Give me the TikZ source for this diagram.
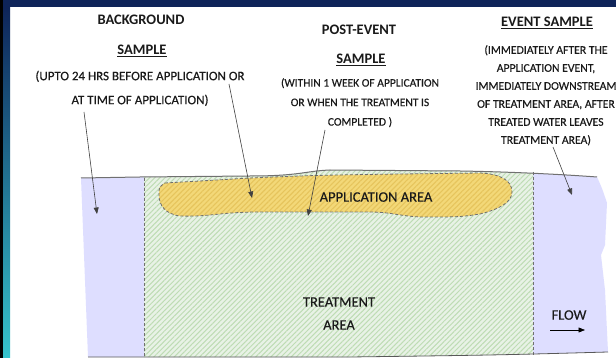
\documentclass[tikz,border=0pt]{standalone}
\usepackage{fontspec}
\setmainfont{Carlito}
\newfontfamily\medfont{Carlito}[FakeBold=0.35]
\usetikzlibrary{arrows.meta, patterns.meta, positioning}

\definecolor{navy}{HTML}{0E2459}
\definecolor{water}{HTML}{DEDEFF}
\definecolor{reed}{HTML}{E8F2E6}
\definecolor{reedline}{HTML}{BEDCB4}
\definecolor{appl}{HTML}{F3D878}
\definecolor{applline}{HTML}{E6C45C}
\definecolor{edge}{HTML}{707070}
\definecolor{ink}{HTML}{1A1A1A}

\begin{document}
\begin{tikzpicture}[x=1pt, y=-1pt,
  head/.style={font=\bfseries\fontsize{14.5}{16}\selectfont, text=ink, inner sep=0, anchor=base},
  body/.style={text=ink, align=center, inner sep=0, anchor=north},
  tag/.style={font=\medfont\fontsize{14.5}{16}\selectfont, text=ink, inner sep=0, anchor=base},
  lead/.style={draw=black!75, line width=0.6pt, -{Triangle[width=5pt,length=6.5pt]}},
  dashes/.style={draw=edge, line width=0.8pt, dash pattern=on 3pt off 2pt},
]

\useasboundingbox (0,0) rectangle (616,358);
\fill[white] (0,0) rectangle (616,358);

% frame
\fill[navy] (0,0) rectangle (616,7);
\fill[black] (0,0) rectangle (3,358);
\shade[top color=navy, middle color={rgb,255:red,0;green,51;blue,160}, bottom color={rgb,255:red,54;green,195;blue,204}] (3,7) rectangle (10,358);

% water
\def\waterpath{(81,178) -- (140,177) -- (250,176) .. controls (300,176) and (305,171) .. (330,170) -- (460,171) .. controls (520,172) and (570,175) .. (597,177) .. controls (602,188) .. (607,203) -- (605,245) -- (601,255) -- (605,290) -- (608,352) .. controls (500,355) .. (350,357) -- (88,357) -- cycle}
\fill[water] \waterpath;

% treatment area
\begin{scope}
  \clip \waterpath;
  \fill[reed] (144,160) rectangle (533,360);
  \fill[pattern={Lines[angle=45, distance=3.6pt, line width=1pt]}, pattern color=reedline] (144,160) rectangle (533,360);
\end{scope}
\coordinate (trA) at (144,178);
\coordinate (trB) at (144,357);
\coordinate (trC) at (533,172);
\coordinate (trD) at (533,356);
\draw[dashes] (trA) -- (trB);
\draw[dashes] (trC) -- (trD);

% application area
\def\applpath{(165,183) .. controls (200,181) .. (250,178) .. controls (320,175) .. (480,173) .. controls (500,174) and (512,180) .. (512,192) .. controls (512,202) and (500,209) .. (480,214) .. controls (460,217) .. (420,217) .. controls (400,216) and (390,212) .. (370,212) -- (260,212) .. controls (220,212) and (210,217) .. (180,216) .. controls (165,214) and (159,205) .. (159,195) .. controls (159,187) .. cycle}
\fill[appl] \applpath;
\fill[pattern={Lines[angle=45, distance=3.6pt, line width=1.1pt]}, pattern color=applline] \applpath;
\draw[dashes] \applpath;

% water edges
\draw[edge, line width=1pt] (81,178) -- (140,177) -- (250,176) .. controls (300,176) and (305,171) .. (330,170) -- (460,171) .. controls (520,172) and (570,175) .. (597,177);
\draw[black!65, line width=0.8pt] (88,357) -- (350,357) .. controls (500,355) .. (608,352);

% texts
\node[head] (bgTitle) at (141,25) {BACKGROUND};
\node[head] (bgSample) at (142,55) {\underline{SAMPLE}};
\node[body, font=\medfont\fontsize{13}{24}\selectfont] (bgText) at (140,70.5) {(UPTO 24 HRS BEFORE APPLICATION OR\\AT TIME OF APPLICATION)};

\node[head] (peTitle) at (359,35) {POST-EVENT};
\node[head] (peSample) at (361,64) {\underline{SAMPLE}};
\node[body, font=\medfont\fontsize{11.5}{19.5}\selectfont] (peText) at (360,78) {(WITHIN 1 WEEK OF APPLICATION\\OR WHEN THE TREATMENT IS\\COMPLETED )};

\node[head] (evTitle) at (547,27) {\underline{EVENT SAMPLE}};
\node[body, font=\medfont\fontsize{11.7}{18}\selectfont] (evText) at (546,45) {(IMMEDIATELY AFTER THE\\APPLICATION EVENT,\\IMMEDIATELY DOWNSTREAM\\OF TREATMENT AREA, AFTER\\TREATED WATER LEAVES\\TREATMENT AREA)};

\node[tag] (applArea) at (376,201.7) {APPLICATION AREA};
\node[tag] (trArea) at (339,306.7) {TREATMENT};
\node[tag, below=23pt of trArea.base, anchor=base] (trArea2) {AREA};
\node[tag] (flow) at (569,319.7) {FLOW};

% leaders
\coordinate (bgFrom) at (84,112);
\coordinate (bgTo) at (97,214);
\coordinate (bgFrom2) at (229,84);
\coordinate (bgTo2) at (252,198);
\coordinate (peFrom) at (325,130);
\coordinate (peTo) at (308,216);
\coordinate (evFrom) at (553,147);
\coordinate (evTo) at (572,195);
\coordinate (flowA) at (550,330);
\coordinate (flowB) at (585,330);

\draw[lead] (bgFrom) -- (bgTo);
\draw[lead] (bgFrom2) -- (bgTo2);
\draw[lead] (peFrom) -- (peTo);
\draw[lead] (evFrom) -- (evTo);
\draw[lead, draw=black] (flowA) -- (flowB);

\end{tikzpicture}
\end{document}
